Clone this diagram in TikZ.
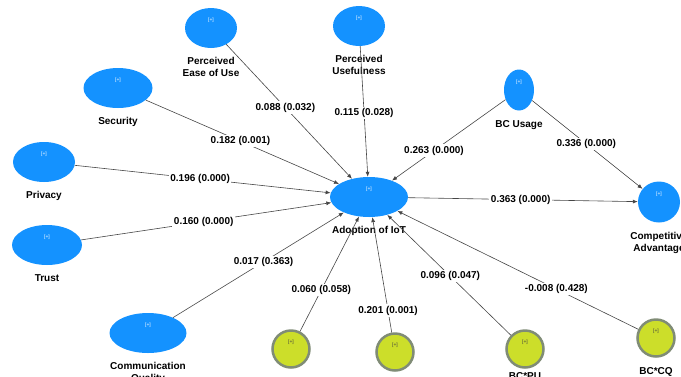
\documentclass[tikz,border=0pt]{standalone}
\usepackage{fontspec}
\setmainfont{Liberation Sans}
\usetikzlibrary{shapes.geometric, arrows.meta, positioning}
\definecolor{lvblue}{RGB}{20,146,255}
\definecolor{lvlime}{RGB}{204,222,42}
\definecolor{lvrim}{RGB}{128,140,118}
\definecolor{lvline}{RGB}{70,70,70}

\begin{document}
\begin{tikzpicture}[x=1pt, y=-1pt,
            font=\bfseries\fontsize{10}{12}\selectfont,
            label distance=6pt,
            tag/.style = {font=\fontsize{5}{6}\selectfont, anchor=north, yshift=-13pt},
            construct/.style = {ellipse, fill=lvblue, inner sep=0pt,
                minimum height=40pt, label={[tag, text=white]90:{[+]}}},
            moderator/.style = {circle, fill=lvlime, draw=lvrim, line width=2.5pt,
                inner sep=0pt, minimum size=37pt, label={[tag, text=black!75]90:{[+]}}},
            link/.style = {draw=lvline, line width=0.6pt, -{Latex[length=5pt, width=4pt]}},
            coef/.style = {fill=white, inner sep=1.5pt}]

        \useasboundingbox (0,0) rectangle (681,376);
        \clip (0,0) rectangle (681,376);

        % Predictors
        \node[construct, minimum width=52pt, label={[align=center]below:Perceived\\Ease of Use}] (PEOU) at (211,28) {};
        \node[construct, minimum width=52pt, label={[align=center]below:Perceived\\Usefulness}] (PU) at (359,26) {};
        \node[construct, minimum width=69pt, label=below:Security] (SEC) at (118,88) {};
        \node[construct, minimum width=62pt, label=below:Privacy] (PRIV) at (44,162) {};
        \node[construct, minimum width=70pt, label=below:Trust] (TRUST) at (47,245) {};
        \node[construct, minimum width=77pt, label={[align=center]below:Communication\\Quality}] (CQ) at (148,333) {};

        % Adoption and outcome
        \node[construct, minimum width=78pt, label=below:Adoption of IoT] (AIOT) at (369,197) {};
        \node[construct, minimum width=30pt, minimum height=41pt, label=below:BC Usage] (BCU) at (519,90) {};
        \node[construct, minimum width=42pt, minimum height=41pt, label={[align=center]below:Competitive\\Advantage}] (CA) at (659,202) {};

        % Interaction terms
        \node[moderator] (M1) at (291,349) {};
        \node[moderator] (M2) at (395,352) {};
        \node[moderator, label={[yshift=6pt]below:BC*PU}] (BCPU) at (525,349) {};
        \node[moderator, label=below:BC*CQ] (BCCQ) at (656,338) {};

        % Paths into Adoption of IoT
        \draw[link] (PEOU) -- node[coef, pos=.47] {0.088 (0.032)} (AIOT);
        \draw[link] (PU) -- node[coef, pos=.51] {0.115 (0.028)} (AIOT);
        \draw[link] (SEC) -- node[coef, pos=.49] {0.182 (0.001)} (AIOT);
        \draw[link] (PRIV) -- node[coef, pos=.49] {0.196 (0.000)} (AIOT);
        \draw[link] (TRUST) -- node[coef, pos=.49] {0.160 (0.000)} (AIOT);
        \draw[link] (CQ) -- node[coef, pos=.53] {0.017 (0.363)} (AIOT);
        \draw[link] (M1) -- node[coef, pos=.36] {0.060 (0.058)} (AIOT);
        \draw[link] (M2) -- node[coef, pos=.19] {0.201 (0.001)} (AIOT);
        \draw[link] (BCPU) -- node[coef, pos=.49] {0.096 (0.047)} (AIOT);
        \draw[link] (BCCQ) -- node[coef, pos=.34] {-0.008 (0.428)} (AIOT);
        \draw[link] (BCU) -- node[coef, pos=.63] {0.263 (0.000)} (AIOT);

        % Paths into Competitive Advantage
        \draw[link] (AIOT) -- node[coef, pos=.49] {0.363 (0.000)} (CA);
        \draw[link] (BCU) -- node[coef, pos=.49] {0.336 (0.000)} (CA);

\end{tikzpicture}
\end{document}
